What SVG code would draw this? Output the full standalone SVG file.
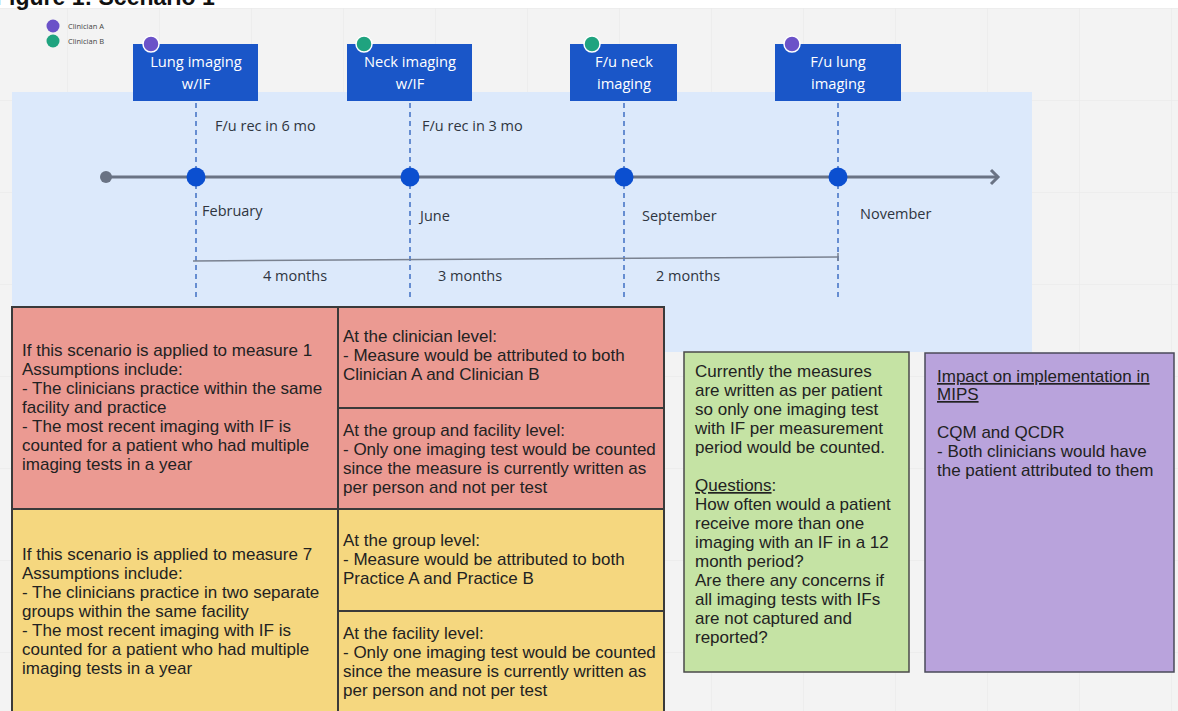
<svg xmlns="http://www.w3.org/2000/svg" width="1178" height="711" viewBox="0 0 1178 711">
<style>
.box{fill:#1a56c8;}
.boxt{font-family:"Open Sans","Noto Sans",sans-serif;font-size:14.7px;fill:#ffffff;text-anchor:middle;}
.lbl{font-family:"Open Sans","Noto Sans",sans-serif;font-size:14.5px;fill:#2f3540;}
.dash{stroke:#3f6fc4;stroke-width:1.5;stroke-dasharray:5 4;fill:none;}
.dot{fill:#0b4fd0;}
.cell{stroke:#3a3a3a;stroke-width:2;}
.red{fill:#eb9a92;}
.yel{fill:#f5d77f;}
.t{font-family:"Liberation Sans",Arial,sans-serif;font-size:17px;fill:#222222;}
.u{text-decoration:underline;}
.leg{font-family:"Open Sans","Noto Sans",sans-serif;font-size:7.5px;fill:#444444;}
</style>
<defs>
<pattern id="grid" width="92" height="92" patternUnits="userSpaceOnUse" x="67" y="8">
<path d="M0 0V92M0 0H92" stroke="#e8e8e8" stroke-width="1" fill="none"/>
</pattern>
</defs>
<rect x="0" y="0" width="1178" height="711" fill="#ffffff"/>
<rect x="0" y="8" width="1178" height="703" fill="#f3f3f3"/>
<rect x="0" y="8" width="1178" height="703" fill="url(#grid)"/>
<text x="-5" y="5" font-family="Liberation Sans,Arial,sans-serif" font-weight="bold" font-size="23" fill="#111">Figure 1: Scenario 1</text>

<g id="legend">
<circle cx="53" cy="26" r="6.5" fill="#6b52c8"/>
<text class="leg" x="68" y="29">Clinician A</text>
<circle cx="53" cy="41" r="6.5" fill="#1fa37f"/>
<text class="leg" x="68" y="44">Clinician B</text>
</g>

<g id="panel">
<rect x="12" y="92" width="1020" height="260" fill="#dce9fb"/>
</g>

<g id="connectors">
<line class="dash" x1="196" y1="103" x2="196" y2="300"/>
<line class="dash" x1="410" y1="103" x2="410" y2="300"/>
<line class="dash" x1="624" y1="103" x2="624" y2="300"/>
<line class="dash" x1="838" y1="103" x2="838" y2="300"/>
<line x1="106" y1="177" x2="997" y2="177" stroke="#6a7384" stroke-width="3"/>
<path d="M991 170 L998 177 L991 184" fill="none" stroke="#6a7384" stroke-width="3" stroke-linejoin="miter"/>
<circle cx="106" cy="177" r="6" fill="#6a7384"/>
<line x1="193" y1="261" x2="838" y2="257" stroke="#7a8290" stroke-width="1.5"/>
<line x1="838" y1="253" x2="838" y2="261" stroke="#7a8290" stroke-width="1.5"/>
</g>

<g id="dots">
<circle class="dot" cx="196" cy="177" r="9.5"/>
<circle class="dot" cx="410" cy="177" r="9.5"/>
<circle class="dot" cx="624" cy="177" r="9.5"/>
<circle class="dot" cx="838" cy="177" r="9.5"/>
</g>

<g id="node-lung">
<rect class="box" x="133" y="44" width="125" height="57"/>
<text class="boxt" x="196" y="67">Lung imaging</text>
<text class="boxt" x="196" y="89">w/IF</text>
<circle cx="151" cy="44" r="8" fill="#6b52c8" stroke="#ffffff" stroke-width="1.5"/>
</g>
<g id="node-neck">
<rect class="box" x="347" y="44" width="125" height="57"/>
<text class="boxt" x="410" y="67">Neck imaging</text>
<text class="boxt" x="410" y="89">w/IF</text>
<circle cx="364" cy="44" r="8" fill="#1fa37f" stroke="#ffffff" stroke-width="1.5"/>
</g>
<g id="node-fu-neck">
<rect class="box" x="570" y="44" width="107" height="57"/>
<text class="boxt" x="624" y="67">F/u neck</text>
<text class="boxt" x="624" y="89">imaging</text>
<circle cx="592" cy="44" r="8" fill="#1fa37f" stroke="#ffffff" stroke-width="1.5"/>
</g>
<g id="node-fu-lung">
<rect class="box" x="775" y="44" width="126" height="57"/>
<text class="boxt" x="838" y="67">F/u lung</text>
<text class="boxt" x="838" y="89">imaging</text>
<circle cx="792" cy="44" r="8" fill="#6b52c8" stroke="#ffffff" stroke-width="1.5"/>
</g>

<g id="labels">
<text class="lbl" x="215" y="131">F/u rec in 6 mo</text>
<text class="lbl" x="422" y="131">F/u rec in 3 mo</text>
<text class="lbl" x="202" y="216">February</text>
<text class="lbl" x="420" y="221">June</text>
<text class="lbl" x="642" y="221">September</text>
<text class="lbl" x="860" y="219">November</text>
<text class="lbl" x="263" y="281">4 months</text>
<text class="lbl" x="438" y="281">3 months</text>
<text class="lbl" x="656" y="281">2 months</text>
</g>

<g id="measure1">
<rect class="cell red" x="12" y="307" width="326" height="202"/>
<text class="t" x="22" y="356">If this scenario is applied to measure 1</text>
<text class="t" x="22" y="375">Assumptions include:</text>
<text class="t" x="22" y="394">- The clinicians practice within the same</text>
<text class="t" x="22" y="413">facility and practice</text>
<text class="t" x="22" y="432">- The most recent imaging with IF is</text>
<text class="t" x="22" y="451">counted for a patient who had multiple</text>
<text class="t" x="22" y="470">imaging tests in a year</text>
</g>
<g id="measure1-clinician">
<rect class="cell red" x="338" y="307" width="326" height="101"/>
<text class="t" x="343" y="342">At the clinician level:</text>
<text class="t" x="343" y="361">- Measure would be attributed to both</text>
<text class="t" x="343" y="380">Clinician A and Clinician B</text>
</g>
<g id="measure1-group">
<rect class="cell red" x="338" y="408" width="326" height="101"/>
<text class="t" x="343" y="436">At the group and facility level:</text>
<text class="t" x="343" y="455">- Only one imaging test would be counted</text>
<text class="t" x="343" y="474">since the measure is currently written as</text>
<text class="t" x="343" y="493">per person and not per test</text>
</g>

<g id="measure7">
<rect class="cell yel" x="12" y="509" width="326" height="210"/>
<text class="t" x="22" y="560">If this scenario is applied to measure 7</text>
<text class="t" x="22" y="579">Assumptions include:</text>
<text class="t" x="22" y="598">- The clinicians practice in two separate</text>
<text class="t" x="22" y="617">groups within the same facility</text>
<text class="t" x="22" y="636">- The most recent imaging with IF is</text>
<text class="t" x="22" y="655">counted for a patient who had multiple</text>
<text class="t" x="22" y="674">imaging tests in a year</text>
</g>
<g id="measure7-group">
<rect class="cell yel" x="338" y="509" width="326" height="102"/>
<text class="t" x="343" y="546">At the group level:</text>
<text class="t" x="343" y="565">- Measure would be attributed to both</text>
<text class="t" x="343" y="584">Practice A and Practice B</text>
</g>
<g id="measure7-facility">
<rect class="cell yel" x="338" y="611" width="326" height="108"/>
<text class="t" x="343" y="639">At the facility level:</text>
<text class="t" x="343" y="658">- Only one imaging test would be counted</text>
<text class="t" x="343" y="677">since the measure is currently written as</text>
<text class="t" x="343" y="696">per person and not per test</text>
</g>

<g id="note-green">
<rect x="684" y="352" width="225" height="320" fill="#c5e3a4" stroke="#4a4a4a" stroke-width="1.5"/>
<text class="t" x="695" y="377">Currently the measures</text>
<text class="t" x="695" y="396">are written as per patient</text>
<text class="t" x="695" y="415">so only one imaging test</text>
<text class="t" x="695" y="434">with IF per measurement</text>
<text class="t" x="695" y="453">period would be counted.</text>
<text class="t" x="695" y="491"><tspan class="u">Questions</tspan>:</text>
<text class="t" x="695" y="510">How often would a patient</text>
<text class="t" x="695" y="529">receive more than one</text>
<text class="t" x="695" y="548">imaging with an IF in a 12</text>
<text class="t" x="695" y="567">month period?</text>
<text class="t" x="695" y="586">Are there any concerns if</text>
<text class="t" x="695" y="605">all imaging tests with IFs</text>
<text class="t" x="695" y="624">are not captured and</text>
<text class="t" x="695" y="643">reported?</text>
</g>

<g id="note-purple">
<rect x="925" y="353" width="249" height="319" fill="#b9a3dc" stroke="#4a4a5a" stroke-width="1.5"/>
<text class="t u" x="937" y="382">Impact on implementation in </text>
<text class="t u" x="937" y="400">MIPS</text>
<text class="t" x="937" y="438">CQM and QCDR</text>
<text class="t" x="937" y="457">- Both clinicians would have</text>
<text class="t" x="937" y="476">the patient attributed to them</text>
</g>
</svg>
